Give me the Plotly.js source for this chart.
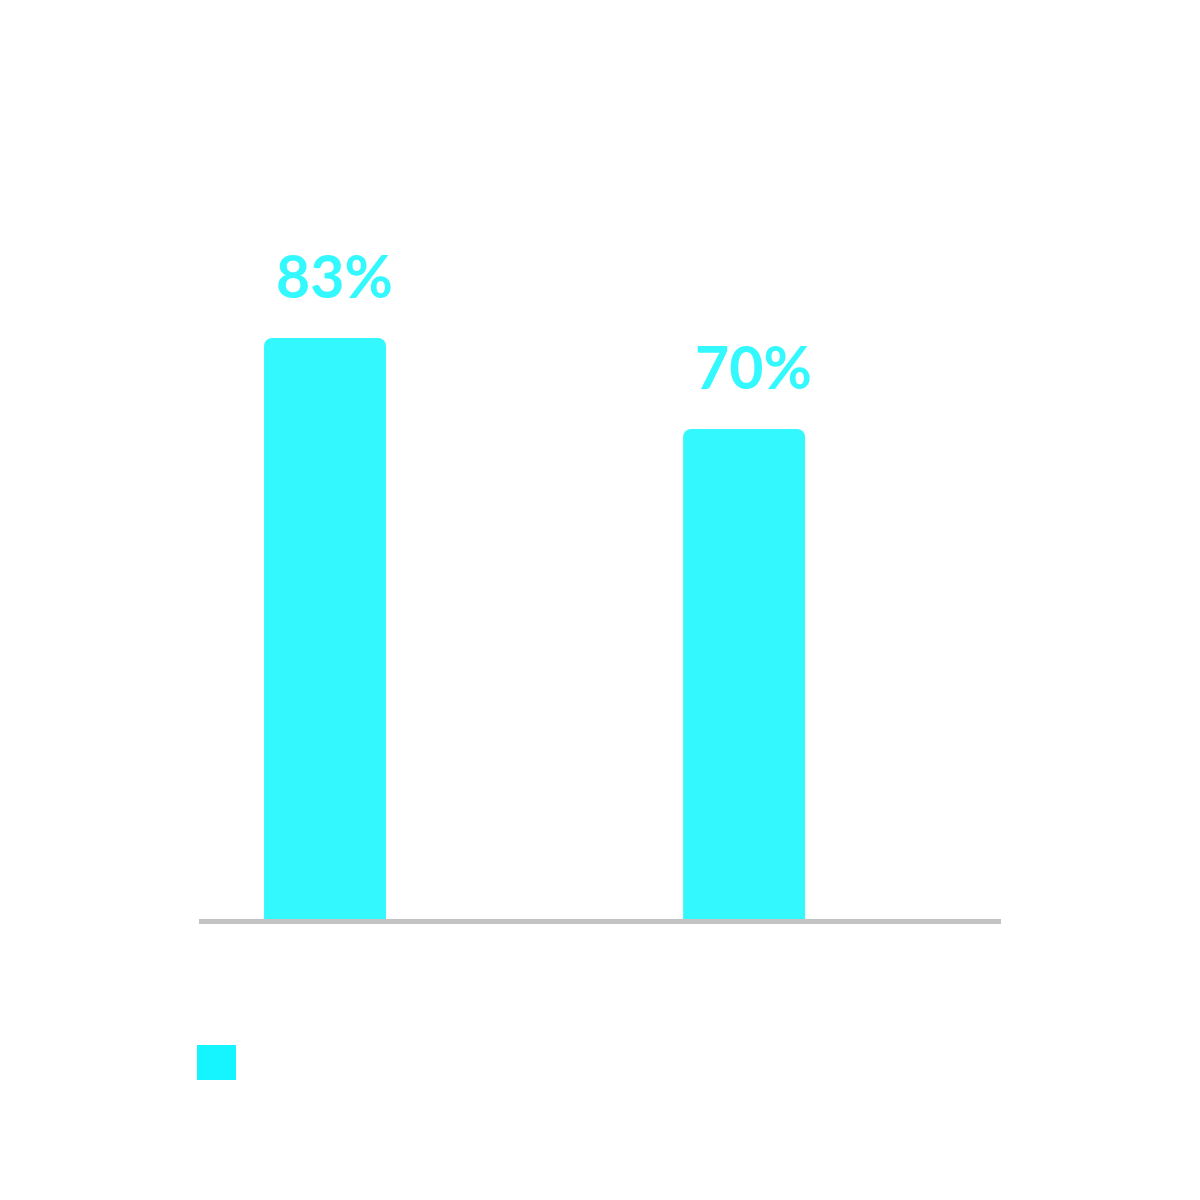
<!DOCTYPE html>
<html>
<head>
<meta charset="utf-8">
<script src="https://cdn.plot.ly/plotly-3.0.1.min.js"></script>
<style>html,body{margin:0;padding:0;background:#fff;}#chart{width:1200px;height:1200px;}</style>
</head>
<body>
<div id="chart"></div>
<script>
const categories = ["Category 1", "Category 2"];
const values = [83, 70];
const labels = ["83%", "70%"];

const barColor = "#33F9FF";
const legendColor = "#14F5FF";

const trace = {
  type: "bar",
  x: categories,
  y: values,
  width: 0.291,
  marker: { color: barColor },
  hoverinfo: "skip",
  showlegend: false
};

const annotations = categories.map((c, i) => ({
  x: c, y: values[i], xref: "x", yref: "y",
  text: labels[i], showarrow: false,
  yanchor: "bottom", xanchor: "center",
  xshift: 9, yshift: 25,
  font: { family: "Lato, 'Open Sans', sans-serif", size: 59, color: barColor, weight: 700 }
}));

const layout = {
  width: 1200, height: 1200,
  margin: { l: 199, r: 199, t: 219, b: 281, pad: 0 },
  paper_bgcolor: "#ffffff", plot_bgcolor: "#ffffff",
  barcornerradius: 8,
  xaxis: {
    type: "category", range: [-0.3007, 1.613],
    showgrid: false, zeroline: false, showticklabels: false, ticks: "",
    showline: true, linecolor: "#C3C3C3", linewidth: 5, fixedrange: true
  },
  yaxis: {
    range: [0, 100], showgrid: false, zeroline: false, showticklabels: false,
    ticks: "", showline: false, fixedrange: true
  },
  annotations: annotations,
  shapes: [{
    type: "rect", xref: "paper", yref: "paper",
    x0: -0.0025, x1: 0.0461, y0: -0.23, y1: -0.18,
    fillcolor: legendColor, line: { width: 0 }
  }],
  showlegend: false
};

Plotly.newPlot("chart", [trace], layout, { displayModeBar: false, staticPlot: true });
</script>
</body>
</html>
